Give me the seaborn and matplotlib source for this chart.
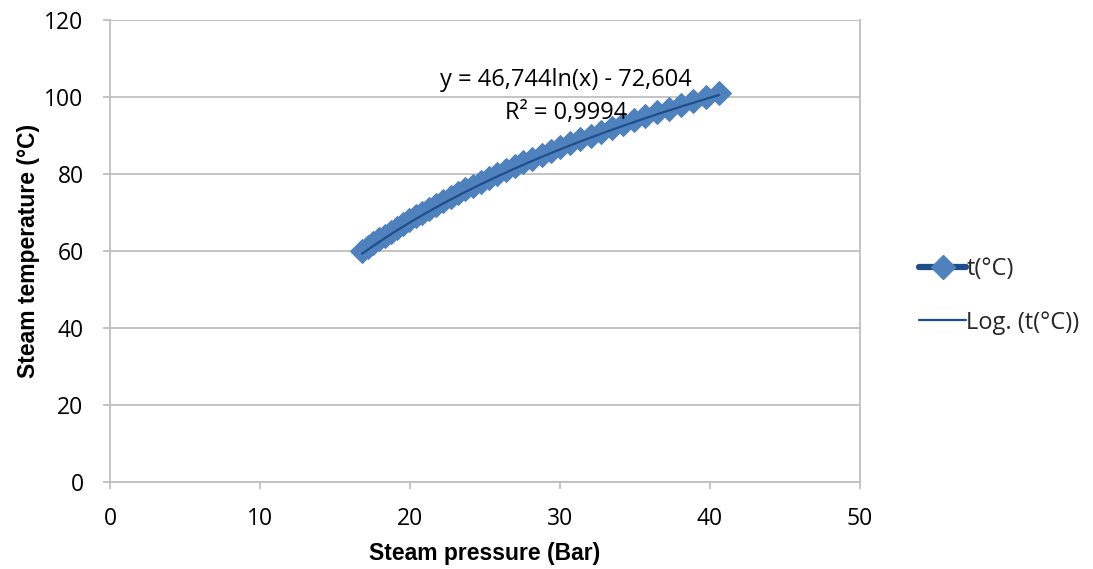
import numpy as np
import pandas as pd
import matplotlib
matplotlib.use("Agg")
import matplotlib.pyplot as plt
import seaborn as sns
from matplotlib.lines import Line2D

# Data
temperature_c = list(range(60, 102))
pressure_bar = [16.8, 17.17, 17.54, 17.92, 18.31, 18.71, 19.12, 19.53, 19.96, 20.39,
                20.83, 21.29, 21.75, 22.22, 22.71, 23.20, 23.70, 24.22, 24.75, 25.28,
                25.83, 26.40, 26.97, 27.56, 28.16, 28.77, 29.39, 30.03, 30.69, 31.35,
                32.04, 32.73, 33.45, 34.17, 34.92, 35.67, 36.45, 37.24, 38.05, 38.88,
                39.73, 40.59]
fit_a = 46.744
fit_b = -72.604
fit_text = "y = 46,744ln(x) - 72,604"
r2_text = "R² = 0,9994"
x_ticks = [0, 10, 20, 30, 40, 50]
y_ticks = [0, 20, 40, 60, 80, 100, 120]

sns.set_theme(style="white")
plt.rcParams['font.family'] = ['Open Sans', 'DejaVu Sans']

df = pd.DataFrame({"p": pressure_bar, "t": temperature_c})
xf = np.linspace(min(pressure_bar), max(pressure_bar), 200)
trend = pd.DataFrame({"p": xf, "t": fit_a * np.log(xf) + fit_b})

fig = plt.figure(figsize=(10.93, 5.69), dpi=100)
ax = fig.add_axes([110/1093, 1-482/569, 750/1093, 462/569])

series_col = "#4F81BD"
line_col = "#1F4E8C"
sns.lineplot(data=df, x="p", y="t", ax=ax, color=line_col, linewidth=3,
             marker="D", markersize=12.5, markerfacecolor=series_col,
             markeredgecolor=series_col, zorder=3, sort=False)
sns.lineplot(data=trend, x="p", y="t", ax=ax, color=line_col, linewidth=1.6, zorder=4)

ax.set_xlim(0, 50)
ax.set_ylim(0, 120)
ax.set_xticks(x_ticks)
ax.set_yticks(y_ticks)
ax.yaxis.grid(True, color="#BFBFBF", linewidth=1.3)
ax.xaxis.grid(False)
ax.spines["top"].set_visible(False)
for s in ["left", "bottom", "right"]:
    ax.spines[s].set_color("#BFBFBF")
    ax.spines[s].set_linewidth(1.3)
ax.tick_params(axis="both", which="both", length=5, width=1.3, color="#BFBFBF",
               labelsize=16.5, labelcolor="black", direction="out", bottom=True, left=True)
ax.tick_params(axis="x", pad=13)
ax.tick_params(axis="y", pad=14)
ax.set_axisbelow(True)

ax.set_xlabel("Steam pressure (Bar)", fontsize=16.5, fontweight="bold",
              family=["Liberation Sans", "DejaVu Sans"], labelpad=8, color="black")
ax.set_ylabel("Steam temperature (°C)", fontsize=16.5, fontweight="bold",
              family=["Liberation Sans", "DejaVu Sans"], labelpad=3, color="black")

ax.text(30.4, 104.4, fit_text, fontsize=17, ha="center", va="center", color="black")
ax.text(30.4, 95.8, r2_text, fontsize=17, ha="center", va="center", color="black")

handles = [
    Line2D([0], [0], color=line_col, linewidth=4.5, marker="D", markersize=12.5,
           markerfacecolor=series_col, markeredgecolor=series_col),
    Line2D([0], [0], color=line_col, linewidth=1.6),
]
fig.legend(handles, ["t(°C)", "Log. (t(°C))"], loc="center left",
           bbox_to_anchor=(898/1093, 1-296/569), frameon=False, fontsize=17,
           handlelength=2.0, handletextpad=0.0, labelspacing=1.25)

fig.savefig("out.png", dpi=100)
